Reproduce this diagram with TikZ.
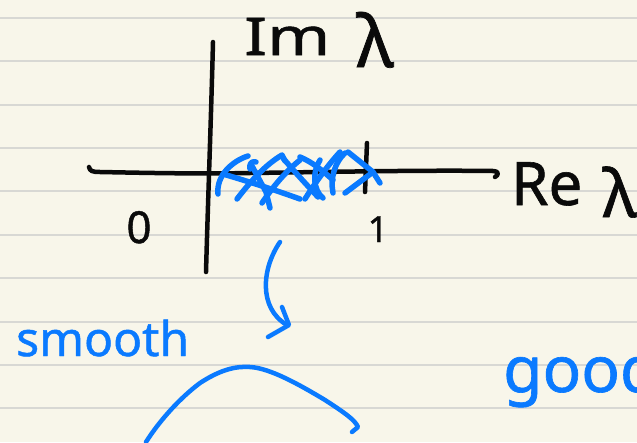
\documentclass[tikz,border=0pt]{standalone}
\usepackage{fontspec}
\usepackage{graphicx}
\newfontfamily\handfont[FakeBold=1]{Noto Sans}
\definecolor{paper}{RGB}{248,246,234}
\definecolor{rulecol}{RGB}{216,216,212}
\definecolor{ink}{RGB}{10,10,10}
\definecolor{pen}{RGB}{10,122,255}
\begin{document}
\begin{tikzpicture}[x=1pt,y=-1pt,
  rulepen/.style={draw=rulecol, line width=2pt},
  inkpen/.style={draw=ink, line width=4.5pt, line cap=round, line join=round},
  bluepen/.style={draw=pen, line width=4.5pt, line cap=round, line join=round},
  hatchpen/.style={draw=pen, line width=5.5pt, line cap=round, line join=round},
  inktext/.style={text=ink, inner sep=0pt, font=\handfont},
  bluetext/.style={text=pen, inner sep=0pt, font=\handfont}]
\useasboundingbox (0,0) rectangle (637,442);
\begin{scope}
\clip (0,0) rectangle (637,442);
\fill[paper] (0,0) rectangle (637,442);
\foreach \yy in {18,61.4,104.7,148,191.4,234.8,278.1,321.5,364.8,408.2}
  \draw[rulepen] (0,\yy) -- (637,\yy);
% axes
\coordinate (vtop) at (213,42);
\coordinate (vbot) at (206,272);
\draw[inkpen] (vtop) .. controls (211,120) and (208,200) .. (vbot);
\coordinate (hleft) at (89,167);
\coordinate (hright) at (495,177);
\draw[inkpen] (hleft) .. controls (90,171) and (92,172) .. (100,172)
  .. controls (150,173) and (200,174) .. (250,173)
  .. controls (330,172) and (420,170) .. (493,171)
  .. controls (499,171) and (499,175) .. (hright);
\coordinate (ttop) at (367,143);
\coordinate (tbot) at (365,192);
\draw[inkpen] (ttop) -- (tbot);
% hatching
\draw[hatchpen] (218,194) .. controls (216,176) and (232,161) .. (248,156);
\draw[hatchpen] (223,174) .. controls (250,182) and (275,190) .. (300,199);
\draw[hatchpen] (237,199) .. controls (250,182) and (265,165) .. (282,155) -- (285,161);
\draw[hatchpen] (250,169) .. controls (249,163) and (252,161) .. (256,162);
\draw[hatchpen] (252,166) -- (266,192) -- (270,208);
\draw[hatchpen] (262,203) .. controls (272,188) and (285,172) .. (300,160);
\draw[hatchpen] (283,158) .. controls (293,170) and (305,183) .. (318,197);
\draw[hatchpen] (300,157) .. controls (312,162) and (322,170) .. (333,180);
\draw[hatchpen] (305,199) .. controls (315,183) and (328,165) .. (340,152);
\draw[hatchpen] (320,160) .. controls (312,172) and (313,190) .. (323,198);
\draw[hatchpen] (333,193) .. controls (330,178) and (335,162) .. (345,153);
\draw[hatchpen] (345,193) -- (373,172) -- (348,152);
\draw[hatchpen] (373,172) -- (380,183);
% arrow
\coordinate (arrS) at (280,242);
\coordinate (arrE) at (287,325);
\draw[bluepen] (arrS) .. controls (262,268) and (258,308) .. (arrE);
\draw[bluepen] (282,307) -- (289,325) -- (268,337);
% arc
\coordinate (arcA) at (146,442);
\coordinate (arcB) at (352,432);
\draw[bluepen] (arcA) .. controls (160,420) and (180,398) .. (200,383)
  .. controls (220,370) and (235,366) .. (250,367)
  .. controls (270,368) and (300,385) .. (325,400)
  .. controls (345,413) and (355,420) .. (358,427) -- (arcB);
% labels
\node[inktext, anchor=base west] (imlab) at (244,55)
  {\fontsize{52}{52}\selectfont\scalebox{1.3}[1]{Im}\hspace{26pt}\raisebox{-12pt}{\fontsize{72}{72}\selectfont λ}};
\node[inktext, anchor=base west] (relab) at (511,205)
  {\fontsize{60}{60}\selectfont Re\hspace{20pt}\raisebox{-12pt}{\fontsize{66}{66}\selectfont λ}};
\node[inktext, anchor=base] (zero) at (139,243) {\fontsize{44}{44}\selectfont 0};
\node[inktext, anchor=base] (one) at (378,242) {\fontsize{36}{36}\selectfont 1};
\node[bluetext, anchor=base west] (smooth) at (16,356) {\fontsize{48}{48}\selectfont smooth};
\node[bluetext, anchor=base west] (good) at (503,392) {\fontsize{64}{64}\selectfont good};
\end{scope}
\end{tikzpicture}
\end{document}
